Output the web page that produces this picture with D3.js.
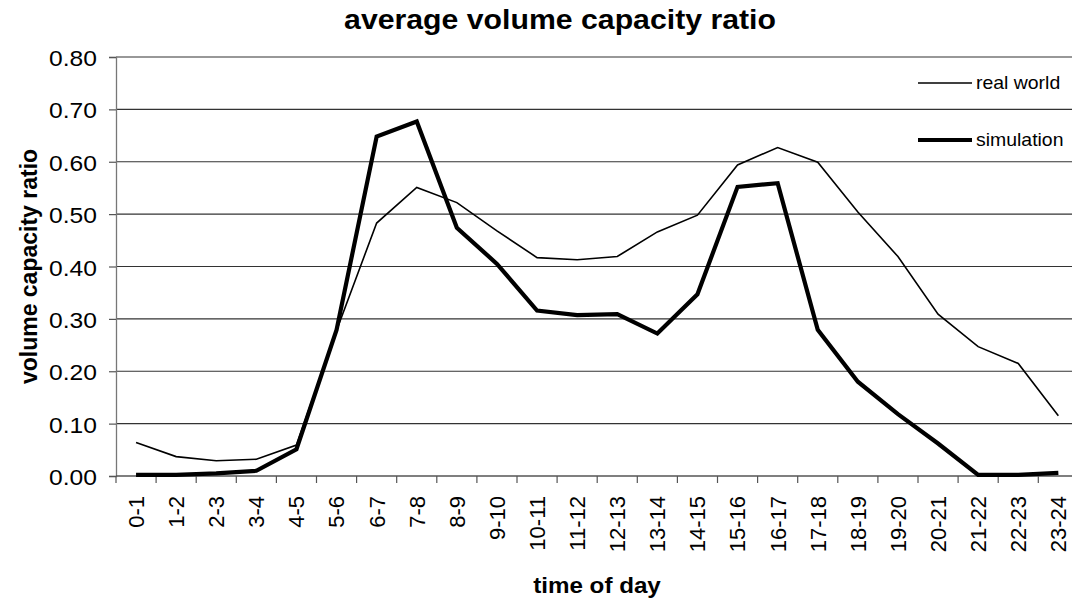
<!DOCTYPE html>
<html>
<head>
<meta charset="utf-8">
<script src="https://cdn.jsdelivr.net/npm/d3@7"></script>
<style>
  html, body { margin: 0; padding: 0; background: #fff; }
  svg { display: block; font-family: "Liberation Sans", Arial, Helvetica, sans-serif; }
</style>
</head>
<body>
<svg id="chart" width="1072" height="601"></svg>
<script>
const categories = ["0-1","1-2","2-3","3-4","4-5","5-6","6-7","7-8","8-9","9-10","10-11","11-12",
  "12-13","13-14","14-15","15-16","16-17","17-18","18-19","19-20","20-21","21-22","22-23","23-24"];
const realWorld = [0.064,0.037,0.029,0.032,0.059,0.278,0.483,0.551,0.522,0.468,0.417,0.413,
  0.419,0.466,0.498,0.594,0.627,0.599,0.504,0.419,0.309,0.247,0.215,0.115];
const simulation = [0.002,0.002,0.005,0.010,0.051,0.279,0.648,0.677,0.474,0.405,0.316,0.307,
  0.309,0.272,0.347,0.552,0.559,0.279,0.180,0.118,0.062,0.002,0.002,0.006];
const yTicks = [0,0.1,0.2,0.3,0.4,0.5,0.6,0.7,0.8];
const seriesNames = ["real world","simulation"];
const titleText = "average volume capacity ratio";
const xTitle = "time of day";
const yTitle = "volume capacity ratio";

(function () {
const svg = d3.select("#chart");
const pLeft = 116, pTop = 57, pBottom = 476, step = 40.1;
const pRight = pLeft + step * categories.length;

const x = d3.scaleBand().domain(categories).range([pLeft, pRight]).padding(0);
const y = d3.scaleLinear().domain([0, 0.8]).range([pBottom, pTop]);
const cx = c => x(c) + x.bandwidth() / 2;

// gridlines
svg.append("g").selectAll("line").data(yTicks.filter(d => d > 0)).join("line")
  .attr("x1", pLeft).attr("x2", pRight)
  .attr("y1", d => y(d)).attr("y2", d => y(d))
  .attr("stroke", "#333").attr("stroke-width", 1.2);

// y axis
const yAxis = svg.append("g").attr("transform", `translate(${pLeft},0)`)
  .call(d3.axisLeft(y).tickValues(yTicks).tickFormat(d3.format(".2f")).tickSize(7).tickPadding(0));
yAxis.select(".domain").attr("stroke", "#777").attr("stroke-width", 1.3);
yAxis.selectAll(".tick line").attr("stroke", "#555").attr("stroke-width", 1.2);
yAxis.selectAll(".tick text").remove();
yAxis.selectAll(".tick").append("text")
  .attr("fill", "#000").attr("font-size", 22).attr("text-anchor", "end")
  .attr("dominant-baseline", "central")
  .attr("transform", "translate(-19,1) scale(1.12,1)")
  .text(d => d3.format(".2f")(d));

// x axis
const xAxisG = svg.append("g");
xAxisG.append("line").attr("x1", pLeft).attr("x2", pRight).attr("y1", pBottom).attr("y2", pBottom)
  .attr("stroke", "#555").attr("stroke-width", 1.3);
const boundaries = categories.map(c => x(c)).concat([pRight]);
xAxisG.selectAll("line.tk").data(boundaries).join("line").attr("class", "tk")
  .attr("x1", d => d).attr("x2", d => d).attr("y1", pBottom).attr("y2", pBottom + 7)
  .attr("stroke", "#555").attr("stroke-width", 1.2);
xAxisG.selectAll("text").data(categories).join("text")
  .attr("transform", d => `translate(${cx(d)},496) rotate(-90)`)
  .attr("text-anchor", "end").attr("dy", "0.36em")
  .attr("font-size", 22).attr("fill", "#000")
  .text(d => d);

// lines
const line = arr => d3.line().x((d, i) => cx(categories[i])).y(d => y(d))(arr);
svg.append("path").attr("d", line(realWorld)).attr("fill", "none")
  .attr("stroke", "#000").attr("stroke-width", 1.6).attr("stroke-linejoin", "miter");
svg.append("path").attr("d", line(simulation)).attr("fill", "none")
  .attr("stroke", "#000").attr("stroke-width", 4.2).attr("stroke-linejoin", "miter");

// legend
const legend = svg.append("g");
const legY = [83, 140], legW = [1.6, 4.2];
seriesNames.forEach((n, i) => {
  legend.append("line").attr("x1", 918).attr("x2", 972).attr("y1", legY[i]).attr("y2", legY[i])
    .attr("stroke", "#000").attr("stroke-width", legW[i]);
  legend.append("text").attr("transform", `translate(976,${legY[i]}) scale(1.08,1)`)
    .attr("dominant-baseline", "central").attr("font-size", 18).attr("fill", "#000").text(n);
});

// titles
svg.append("text").attr("transform", "translate(560,29) scale(1.12,1)")
  .attr("text-anchor", "middle").attr("font-size", 27).attr("font-weight", "bold").text(titleText);
svg.append("text").attr("transform", "translate(597,593) scale(1.1,1)")
  .attr("text-anchor", "middle").attr("font-size", 22).attr("font-weight", "bold").text(xTitle);
svg.append("text").attr("transform", `translate(37,${(pTop + pBottom) / 2}) rotate(-90)`)
  .attr("text-anchor", "middle").attr("font-size", 23).attr("font-weight", "bold").text(yTitle);
})();
</script>
</body>
</html>
